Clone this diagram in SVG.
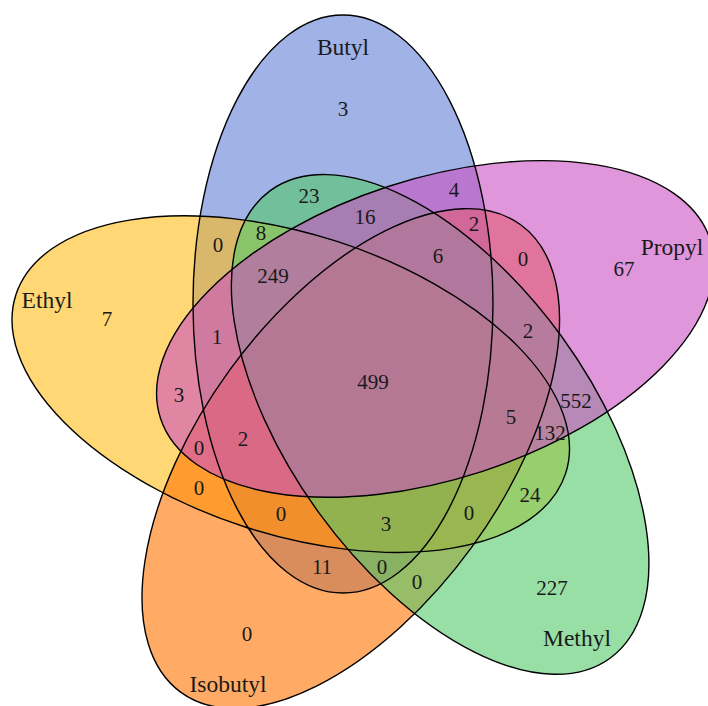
<svg xmlns="http://www.w3.org/2000/svg" width="708" height="706" viewBox="0 0 708 706">
  <style>
    .fill { stroke: none; fill-opacity: 0.6; }
    .edge { fill: none; stroke: #000; stroke-width: 1.4; }
    .num { font-family: "Liberation Serif", "Times New Roman", serif; font-size: 21px; fill: #1a1a1a; text-anchor: middle; }
    .cat { font-family: "Liberation Serif", "Times New Roman", serif; font-size: 23.5px; fill: #1a1a1a; text-anchor: middle; }
  </style>
  <defs>
    <!-- one ellipse, rotated about the common centre (372,380) for each set -->
    <ellipse id="petal" cx="343" cy="304" rx="150" ry="289"/>
  </defs>
  <rect width="708" height="706" fill="#fff"/>

  <!-- set fills, drawn in alphabetical order -->
  <g id="set-butyl"><use href="#petal" class="fill" fill="#617fd5"/></g>
  <g id="set-ethyl"><use href="#petal" class="fill" fill="#ffbc19" transform="rotate(-72 372 380)"/></g>
  <g id="set-isobutyl"><use href="#petal" class="fill" fill="#ff7300" transform="rotate(216 372 380)"/></g>
  <g id="set-methyl"><use href="#petal" class="fill" fill="#53ca69" transform="rotate(144 372 380)"/></g>
  <g id="set-propyl"><use href="#petal" class="fill" fill="#cb50c1" transform="rotate(72 372 380)"/></g>

  <!-- outlines on top so every border stays crisp -->
  <g id="outlines">
    <use href="#petal" class="edge"/>
    <use href="#petal" class="edge" transform="rotate(-72 372 380)"/>
    <use href="#petal" class="edge" transform="rotate(216 372 380)"/>
    <use href="#petal" class="edge" transform="rotate(144 372 380)"/>
    <use href="#petal" class="edge" transform="rotate(72 372 380)"/>
  </g>

  <g id="connectors"/>

  <!-- category names -->
  <g id="names">
    <text class="cat" x="343" y="55">Butyl</text>
    <text class="cat" x="672" y="255">Propyl</text>
    <text class="cat" x="47" y="308">Ethyl</text>
    <text class="cat" x="577" y="646">Methyl</text>
    <text class="cat" x="228" y="692">Isobutyl</text>
  </g>

  <!-- region counts -->
  <g id="counts">
    <text class="num" x="343" y="116">3</text>
    <text class="num" x="309" y="203">23</text>
    <text class="num" x="454" y="197">4</text>
    <text class="num" x="365" y="224">16</text>
    <text class="num" x="261" y="240">8</text>
    <text class="num" x="218" y="252">0</text>
    <text class="num" x="474" y="231">2</text>
    <text class="num" x="523" y="266">0</text>
    <text class="num" x="438" y="263">6</text>
    <text class="num" x="273" y="283">249</text>
    <text class="num" x="624" y="276">67</text>
    <text class="num" x="107" y="326">7</text>
    <text class="num" x="217" y="344">1</text>
    <text class="num" x="528" y="338">2</text>
    <text class="num" x="373" y="389">499</text>
    <text class="num" x="179" y="402">3</text>
    <text class="num" x="576" y="408">552</text>
    <text class="num" x="511" y="424">5</text>
    <text class="num" x="550" y="440">132</text>
    <text class="num" x="243" y="446">2</text>
    <text class="num" x="199" y="455">0</text>
    <text class="num" x="199" y="495">0</text>
    <text class="num" x="530" y="502">24</text>
    <text class="num" x="281" y="521">0</text>
    <text class="num" x="386" y="531">3</text>
    <text class="num" x="469" y="520">0</text>
    <text class="num" x="322" y="574">11</text>
    <text class="num" x="382" y="574">0</text>
    <text class="num" x="417" y="589">0</text>
    <text class="num" x="552" y="595">227</text>
    <text class="num" x="247" y="641">0</text>
  </g>
</svg>
